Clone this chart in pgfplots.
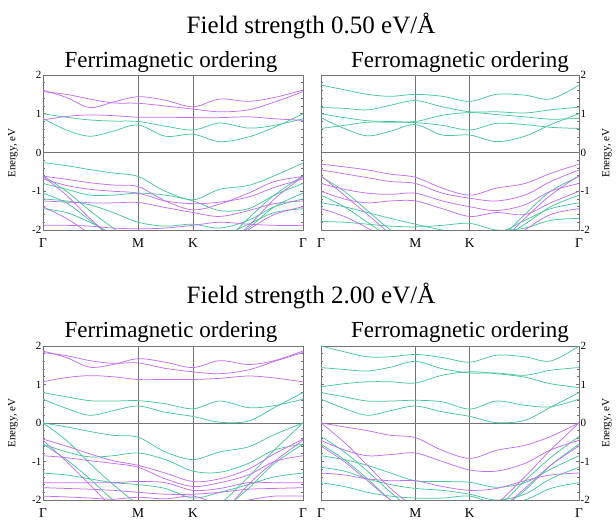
\documentclass[border=0pt]{standalone}
\usepackage{fontspec}
\setmainfont{Liberation Serif}
\usepackage{pgfplots}
\usepackage{pgfplotstable}
\pgfplotsset{compat=1.18}

\definecolor{mag}{RGB}{196,110,238}
\definecolor{tl}{RGB}{72,198,160}
\definecolor{axg}{RGB}{115,115,115}

% k-path: Gamma=0, M=0.366, K=0.577, Gamma=1
% panel 1: 0.50 eV/A, ferrimagnetic
\pgfplotstableread{
t     m1    m2    m3    t1    t2    vt1   vt2   vt3   vt4   vt5   vt6   vm1   vm2   vm3   vm4   vm5   vm6
0     1.61  1.57  0.84  1.00  0.88  -0.26 -0.80 -0.60 -1.45 -1.05 -1.20 -0.61 -0.68 -1.25 -1.88 -0.62 -1.40
0.09  1.42  1.50  0.93  0.91  0.58  -0.34 -0.95 -1.00 -1.55 -1.30 -1.25 -0.69 -0.85 -1.28 -1.88 -1.10 -1.70
0.18  1.16  1.38  0.97  0.84  0.42  -0.44 -1.10 -1.50 -1.80 -1.75 -1.35 -0.78 -0.95 -1.30 -1.90 -1.70 -2.10
0.27  1.30  1.28  0.95  0.81  0.55  -0.53 -1.10 -1.95 -2.10 -2.20 -1.55 -0.84 -1.00 -1.30 -1.95 -2.20 -2.50
0.366 1.44  1.27  0.91  0.80  0.71  -0.62 -1.05 -2.40 -2.30 -2.50 -1.80 -0.88 -1.05 -1.29 -1.97 -2.60 -2.80
0.47  1.35  1.20  0.91  0.68  0.42  -1.00 -1.10 -2.60 -2.40 -2.60 -1.90 -1.25 -1.25 -1.42 -1.95 -2.80 -2.90
0.577 1.18  1.12  0.90  0.58  0.47  -1.22 -1.25 -2.60 -2.40 -2.60 -1.85 -1.48 -1.32 -1.55 -1.88 -2.80 -2.90
0.68  1.38  1.05  0.90  0.76  0.28  -0.95 -1.50 -2.40 -2.20 -2.40 -1.95 -1.33 -1.28 -1.65 -1.80 -2.50 -2.60
0.79  1.32  1.10  0.92  0.63  0.40  -0.85 -1.45 -1.70 -1.85 -1.95 -1.75 -1.05 -1.15 -1.50 -1.85 -1.90 -2.00
0.89  1.42  1.30  0.87  0.70  0.65  -0.60 -1.10 -1.10 -1.55 -1.40 -1.40 -0.75 -0.90 -1.32 -1.88 -1.20 -1.60
1     1.61  1.57  0.83  0.87  1.00  -0.27 -0.80 -0.60 -1.45 -1.05 -1.20 -0.62 -0.68 -1.25 -1.88 -0.62 -1.40
}\pa

% panel 2: 0.50 eV/A, ferromagnetic
\pgfplotstableread{
t     c1    c2    c3    c4    c5    v1    v2    v3    v4    v5    v6    vt1   vt2   vt3   vt4
0     1.74  1.16  1.00  0.90  0.62  -0.30 -0.45 -0.80 -1.00 -0.60 -1.45 -1.78 -0.62 -1.10 -1.30
0.09  1.62  1.14  0.90  0.62  0.70  -0.37 -0.55 -0.95 -1.20 -1.10 -1.65 -1.80 -1.00 -1.40 -1.40
0.18  1.50  1.10  0.82  0.43  0.78  -0.45 -0.65 -1.05 -1.30 -1.60 -1.95 -1.85 -1.50 -1.80 -1.55
0.27  1.45  1.22  0.80  0.55  0.78  -0.56 -0.75 -1.08 -1.25 -2.10 -2.30 -1.90 -2.00 -2.20 -1.70
0.366 1.50  1.34  0.80  0.72  0.77  -0.64 -0.80 -1.05 -1.25 -2.50 -2.60 -1.92 -2.40 -2.50 -1.85
0.47  1.45  1.18  0.96  0.45  0.70  -0.92 -1.05 -1.25 -1.45 -2.70 -2.70 -1.88 -2.60 -2.60 -2.00
0.577 1.32  1.05  1.03  0.45  0.58  -1.10 -1.18 -1.40 -1.65 -2.70 -2.70 -1.83 -2.60 -2.60 -2.10
0.68  1.50  1.05  0.98  0.28  0.75  -0.92 -1.25 -1.50 -1.55 -2.40 -2.50 -2.00 -2.30 -2.30 -2.10
0.79  1.48  1.02  0.92  0.42  0.72  -0.80 -1.10 -1.35 -1.60 -1.70 -2.00 -1.95 -1.60 -1.85 -1.75
0.89  1.38  1.10  0.86  0.72  0.65  -0.54 -0.75 -1.00 -1.30 -1.10 -1.60 -1.75 -1.00 -1.40 -1.45
1     1.74  1.17  0.88  1.00  0.62  -0.30 -0.45 -0.80 -1.00 -0.60 -1.45 -1.70 -0.62 -1.10 -1.30
}\pb

% panel 3: 2.00 eV/A, ferrimagnetic
\pgfplotstableread{
t     u1    u2    u3    ut1   ut2   vt1   vt2   vt3   vt4   vt5   vm1   vm2   vm3   vm4   vm5   vm6
0     1.87  1.83  1.07  0.79  0.62  0.00  -0.55 0.00  -1.30 -0.55 -0.42 -0.85 -1.55 -1.68 -0.45 -1.90
0.09  1.70  1.75  1.18  0.68  0.38  -0.10 -0.75 -0.45 -1.35 -0.95 -0.60 -0.90 -1.55 -1.70 -1.00 -1.92
0.18  1.45  1.62  1.23  0.58  0.20  -0.22 -0.88 -1.05 -1.45 -1.45 -0.80 -0.98 -1.55 -1.72 -1.60 -1.95
0.27  1.52  1.55  1.20  0.57  0.32  -0.32 -0.85 -1.60 -1.55 -2.00 -0.98 -1.05 -1.55 -1.75 -2.20 -1.98
0.366 1.67  1.56  1.13  0.58  0.44  -0.37 -0.78 -2.10 -1.60 -2.40 -1.10 -1.15 -1.52 -1.80 -2.60 -1.93
0.47  1.58  1.42  1.13  0.50  0.28  -0.75 -0.95 -2.40 -1.70 -2.60 -1.30 -1.45 -1.55 -1.85 -2.80 -1.97
0.577 1.44  1.33  1.13  0.37  0.17  -0.95 -1.25 -2.40 -1.95 -2.60 -1.52 -1.65 -1.75 -1.85 -2.80 -1.90
0.68  1.62  1.28  1.16  0.57  0.02  -0.75 -1.28 -2.10 -1.80 -2.30 -1.45 -1.55 -1.70 -1.80 -2.40 -2.10
0.79  1.52  1.38  1.22  0.40  0.05  -0.62 -1.05 -1.40 -1.60 -1.70 -1.20 -1.35 -1.55 -1.72 -1.60 -2.00
0.89  1.62  1.60  1.17  0.45  0.40  -0.30 -0.70 -0.70 -1.40 -1.05 -0.80 -1.00 -1.55 -1.70 -1.00 -1.90
1     1.87  1.83  1.07  0.62  0.79  0.00  -0.55 0.00  -1.30 -0.55 -0.42 -0.85 -1.55 -1.68 -0.45 -1.90
}\pc

% panel 4: 2.00 eV/A, ferromagnetic
\pgfplotstableread{
t     c1    c2    c3    c4    c5    v1    v2    v3    v4    v5    vt1   vt2   vt3   vt4   vt5
0     2.00  1.44  0.94  0.79  0.62  0.00  -0.45 0.00  -1.30 -0.60 -0.35 -0.85 -1.15 -1.55 -0.55
0.09  1.85  1.39  1.02  0.68  0.38  -0.10 -0.70 -0.50 -1.35 -1.00 -0.75 -0.95 -1.25 -1.65 -0.95
0.18  1.72  1.35  1.07  0.57  0.20  -0.20 -0.85 -1.10 -1.45 -1.50 -1.25 -1.10 -1.45 -1.80 -1.45
0.27  1.72  1.45  1.07  0.57  0.32  -0.32 -0.82 -1.70 -1.50 -2.00 -1.80 -1.30 -1.60 -1.90 -2.00
0.366 1.78  1.60  1.04  0.59  0.44  -0.38 -0.78 -2.20 -1.50 -2.40 -2.30 -1.50 -1.70 -1.95 -2.40
0.47  1.70  1.41  1.24  0.55  0.29  -0.71 -1.00 -2.50 -1.65 -2.60 -2.50 -1.52 -1.75 -1.95 -2.60
0.577 1.58  1.30  1.33  0.36  0.17  -0.92 -1.22 -2.50 -1.75 -2.60 -2.50 -1.54 -1.85 -1.90 -2.60
0.68  1.76  1.30  1.28  0.57  0.01  -0.71 -1.25 -2.10 -1.70 -2.30 -2.20 -1.67 -2.00 -2.10 -2.30
0.79  1.72  1.24  1.19  0.46  0.07  -0.58 -1.05 -1.40 -1.50 -1.70 -1.50 -1.55 -1.85 -2.00 -1.75
0.89  1.61  1.37  1.02  0.42  0.41  -0.35 -0.70 -0.70 -1.35 -1.10 -0.90 -1.20 -1.45 -1.70 -1.10
1     2.00  1.44  0.92  0.62  0.79  0.00  -0.45 0.00  -1.30 -0.60 -0.35 -0.85 -1.15 -1.55 -0.55
}\pd

\pgfplotsset{
  bands/.style={
    scale only axis, anchor=south west,
    xmin=0, xmax=1, ymin=-2, ymax=2,
    xtick={0,0.366,0.577,1}, xticklabels={Γ,M,K,Γ},
    ytick={-2,-1,0,1,2}, yticklabels={-2,-1,0,1,2},
    minor y tick num=4,
    axis line style={axg, line width=0.9pt},
    ytick style={axg, line width=0.6pt},
    xtick style={draw=none},
    major tick length=3pt, minor tick length=2pt,
    yticklabel style={font=\fontsize{11}{12}\selectfont, inner sep=1.5pt},
    xticklabel style={font=\fontsize{13.5}{14}\selectfont, inner sep=1pt, yshift=-7pt},
    every axis plot/.append style={line width=0.75pt, smooth, tension=0.55, no markers},
  },
  rside/.style={yticklabel pos=right},
}

\newcommand{\guides}{%
  \draw[axg, line width=0.9pt] (axis cs:0.366,-2) -- (axis cs:0.366,2);
  \draw[axg, line width=0.9pt] (axis cs:0.577,-2) -- (axis cs:0.577,2);
  \draw[axg, line width=0.9pt] (axis cs:0,0) -- (axis cs:1,0);}

\begin{document}
\begin{tikzpicture}
\path[use as bounding box] (0,0) rectangle (616pt,521pt);

% titles
\node[anchor=base, font=\fontsize{25}{27}\selectfont] at (311pt,487pt) {Field strength 0.50 eV/Å};
\node[anchor=base, font=\fontsize{23}{25}\selectfont] at (171pt,453pt) {Ferrimagnetic ordering};
\node[anchor=base, font=\fontsize{23}{25}\selectfont] at (460pt,453pt) {Ferromagnetic ordering};
\node[anchor=base, font=\fontsize{25}{27}\selectfont] at (311pt,217pt) {Field strength 2.00 eV/Å};
\node[anchor=base, font=\fontsize{23}{25}\selectfont] at (171pt,183pt) {Ferrimagnetic ordering};
\node[anchor=base, font=\fontsize{23}{25}\selectfont] at (460pt,183pt) {Ferromagnetic ordering};

% y labels
\node[rotate=90, font=\fontsize{11}{12}\selectfont] at (13pt,368pt) {Energy, eV};
\node[rotate=90, font=\fontsize{11}{12}\selectfont] at (607pt,368pt) {Energy, eV};
\node[rotate=90, font=\fontsize{11}{12}\selectfont] at (13pt,98pt) {Energy, eV};
\node[rotate=90, font=\fontsize{11}{12}\selectfont] at (607pt,98pt) {Energy, eV};

% top left
\begin{axis}[bands, at={(43pt,291pt)}, width=260pt, height=155pt]
\guides
\foreach \b in {t1,t2,vt1,vt2,vt3,vt4,vt5,vt6} {\addplot[tl] table[x=t,y=\b]{\pa};}
\foreach \b in {m1,m2,m3,vm1,vm2,vm3,vm4,vm5,vm6} {\addplot[mag] table[x=t,y=\b]{\pa};}
\end{axis}

% top right
\begin{axis}[bands, rside, at={(321pt,291pt)}, width=258pt, height=155pt]
\guides
\foreach \b in {c1,c2,c3,c4,c5,vt1,vt2,vt3,vt4} {\addplot[tl] table[x=t,y=\b]{\pb};}
\foreach \b in {v1,v2,v3,v4,v5,v6} {\addplot[mag] table[x=t,y=\b]{\pb};}
\end{axis}

% bottom left
\begin{axis}[bands, at={(43pt,21pt)}, width=260pt, height=154pt]
\guides
\foreach \b in {ut1,ut2,vt1,vt2,vt3,vt4,vt5} {\addplot[tl] table[x=t,y=\b]{\pc};}
\foreach \b in {u1,u2,u3,vm1,vm2,vm3,vm4,vm5,vm6} {\addplot[mag] table[x=t,y=\b]{\pc};}
\end{axis}

% bottom right
\begin{axis}[bands, rside, at={(321pt,21pt)}, width=258pt, height=154pt]
\guides
\foreach \b in {c1,c2,c3,c4,c5,vt1,vt2,vt3,vt4,vt5} {\addplot[tl] table[x=t,y=\b]{\pd};}
\foreach \b in {v1,v2,v3,v4,v5} {\addplot[mag] table[x=t,y=\b]{\pd};}
\end{axis}
\end{tikzpicture}
\end{document}
